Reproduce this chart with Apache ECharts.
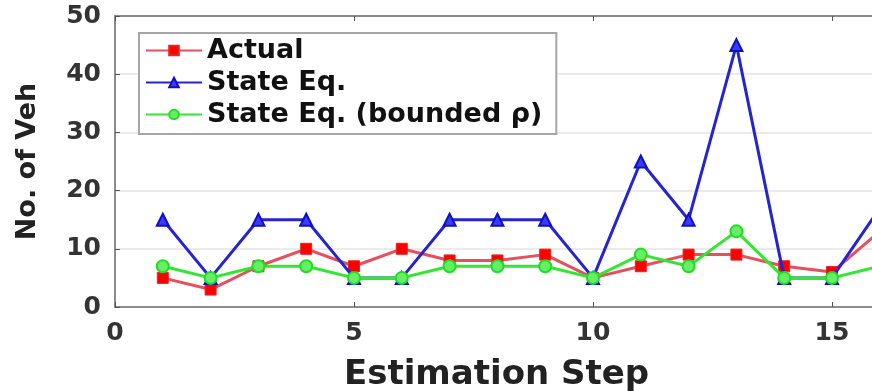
<!DOCTYPE html>
<html>
<head>
<meta charset="utf-8">
<script src="https://cdn.jsdelivr.net/npm/echarts@6/dist/echarts.min.js"></script>
<style>
html, body { margin: 0; padding: 0; overflow: hidden; background: #fff; width: 872px; height: 391px; }
#chart { width: 1100px; height: 391px; }
</style>
</head>
<body>
<div id="chart"></div>
<script>
const steps = [1, 2, 3, 4, 5, 6, 7, 8, 9, 10, 11, 12, 13, 14, 15, 16];
const actual = [5, 3, 7, 10, 7, 10, 8, 8, 9, 5, 7, 9, 9, 7, 6, 13];
const stateEq = [15, 5, 15, 15, 5, 5, 15, 15, 15, 5, 25, 15, 45, 5, 5, 17];
const stateEqBounded = [7, 5, 7, 7, 5, 5, 7, 7, 7, 5, 9, 7, 13, 5, 5, 7];
const xTicks = [0, 5, 10, 15, 20];
const yTicks = [0, 10, 20, 30, 40, 50];
const names = ['Actual', 'State Eq.', 'State Eq. (bounded \u03C1)'];

const pairs = arr => steps.map((s, i) => [s, arr[i]]);
const FONT = 'DejaVu Sans';
const axisGray = '#8c8c8c';

const chart = echarts.init(document.getElementById('chart'), null, { renderer: 'canvas' });
chart.setOption({
  animation: false,
  backgroundColor: '#ffffff',
  grid: { left: 115, top: 16, right: 29, bottom: 84, containLabel: false },
  legend: {
    orient: 'vertical',
    left: 139,
    top: 33,
    padding: [4, 14, 6, 6],
    itemGap: 5,
    itemWidth: 56,
    itemHeight: 12,
    backgroundColor: '#ffffff',
    borderColor: '#a6a6a6',
    borderWidth: 2,
    borderRadius: 0,
    textStyle: { fontFamily: FONT, fontWeight: 'bold', fontSize: 27, color: '#111' },
    data: names
  },
  xAxis: [{
    type: 'value',
    min: xTicks[0], max: xTicks[xTicks.length - 1], interval: 5,
    position: 'bottom',
    axisLine: { show: true, onZero: false, lineStyle: { color: axisGray, width: 2 } },
    axisTick: { show: true, inside: true, length: 5, lineStyle: { color: '#555', width: 1 } },
    axisLabel: { margin: 14, fontFamily: FONT, fontWeight: 'bold', fontSize: 25, color: '#333' },
    splitLine: { show: false }
  }, {
    type: 'value',
    min: xTicks[0], max: xTicks[xTicks.length - 1], interval: 5,
    position: 'top',
    axisLine: { show: true, onZero: false, lineStyle: { color: axisGray, width: 2 } },
    axisTick: { show: true, inside: true, length: 5, lineStyle: { color: '#555', width: 1 } },
    axisLabel: { show: false },
    splitLine: { show: false }
  }],
  yAxis: {
    type: 'value',
    min: yTicks[0], max: yTicks[yTicks.length - 1], interval: 10,
    name: 'No. of Veh',
    nameLocation: 'middle',
    nameGap: 74,
    nameTextStyle: { fontFamily: FONT, fontWeight: 'bold', fontSize: 27, color: '#222' },
    axisLine: { show: true, lineStyle: { color: axisGray, width: 2 } },
    axisTick: { show: true, inside: true, length: 5, lineStyle: { color: '#555', width: 1 } },
    axisLabel: { margin: 14, fontFamily: FONT, fontWeight: 'bold', fontSize: 25, color: '#333' },
    splitLine: { show: true, lineStyle: { color: '#ebebeb', width: 2 } }
  },
  graphic: [{
    type: 'text',
    left: 344,
    top: 358,
    style: { text: 'Estimation Step', fontFamily: FONT, fontWeight: 'bold', fontSize: 34, fill: '#222' }
  }],
  series: [{
    name: names[0],
    type: 'line',
    data: pairs(actual),
    symbol: 'rect',
    symbolSize: 11,
    lineStyle: { color: '#e4505e', width: 3 },
    itemStyle: { color: '#ff0000', borderColor: '#ee2020', borderWidth: 1 },
    z: 3
  }, {
    name: names[1],
    type: 'line',
    data: pairs(stateEq),
    symbol: 'triangle',
    symbolSize: 12,
    lineStyle: { color: '#2424d0', width: 3 },
    itemStyle: { color: '#3a3aff', borderColor: '#1010c0', borderWidth: 2 },
    z: 4
  }, {
    name: names[2],
    type: 'line',
    data: pairs(stateEqBounded),
    symbol: 'circle',
    symbolSize: 12,
    lineStyle: { color: '#33e633', width: 3 },
    itemStyle: { color: '#66ee66', borderColor: '#22dd22', borderWidth: 2 },
    z: 5
  }]
});
</script>
</body>
</html>
